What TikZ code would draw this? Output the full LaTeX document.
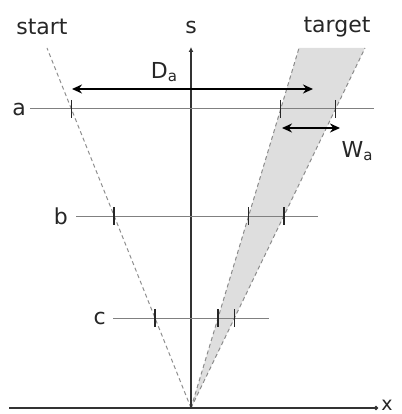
\documentclass[tikz,border=0pt]{standalone}
\usepackage{fontspec}
\setmainfont{DejaVu Sans}
\usetikzlibrary{arrows.meta, calc, positioning}

\begin{document}
\begin{tikzpicture}[x=1pt, y=-1pt, >=Stealth,
    axis/.style={draw=black!80, line width=1.3pt},
    guide/.style={draw=black!50, line width=1pt},
    bound/.style={draw=black!45, line width=1pt, dash pattern=on 4pt off 3pt},
    tickmark/.style={draw=black!85, line width=1.5pt},
    dim/.style={draw=black, line width=1.6pt, {Stealth[length=10pt,width=9pt]}-{Stealth[length=10pt,width=9pt]}},
    lbl/.style={font=\fontsize{22}{24}\selectfont, text=black!85, inner sep=0pt}]
  \useasboundingbox (0,0) rectangle (401,414);
  % axes and the three start/target boundaries
  \coordinate (O) at (191,408);
  \coordinate (st) at (47,48);
  \coordinate (tl) at (299,48);
  \coordinate (tr) at (365,48);
  \fill[black!13] (O) -- (tl) -- (tr) -- cycle;
  \draw[bound] (O) -- (st);
  \draw[bound] (O) -- (tl);
  \draw[bound] (O) -- (tr);
  \coordinate (xl) at (9,408);
  \coordinate (xr) at (378,408);
  \coordinate (stop) at (191,47);
  \draw[axis, -{Circle[length=4pt]}] (xl) -- (xr);
  \draw[axis, -{Latex[length=5pt,width=5pt]}] (O) -- (stop);
  \node[lbl, font=\fontsize{19}{21}\selectfont] (xlab) at (387,405) {x};
  \node[lbl] (slab) at (191,27) {s};
  \node[lbl] (start) at (42,27) {start};
  \node[lbl] (target) at (337,27) {target};
  % horizontal lines a, b, c
  \foreach \n/\y/\xa/\xb/\gap in {a/109/30/374/4pt, b/216/76/318/8pt, c/318/113/269/7pt} {
    \coordinate (\n0) at (\xa,\y);
    \coordinate (\n1) at (\xb,\y);
    \draw[guide] (\n0) -- (\n1);
    \node[lbl, left=\gap of \n0] (lab\n) {\n};
  }
  % ticks where the lines cross the boundaries
  \foreach \n/\t in {a/0.8306, b/0.5333, c/0.25}
    \foreach \e in {st,tl,tr} {
      \coordinate (\n\e) at ($(O)!\t!(\e)$);
      \draw[tickmark] ($(\n\e)+(0,-9)$) -- ($(\n\e)+(0,9)$);
    }
  % distances
  \coordinate (Dl) at (72,89);
  \coordinate (Dr) at (313,89);
  \draw[dim] (Dl) -- (Dr);
  \node[lbl] (Dlab) at (164,72) {D\raisebox{-3pt}{\fontsize{15}{15}\selectfont a}};
  \coordinate (Wl) at (282,128);
  \coordinate (Wr) at (340,128);
  \draw[dim] (Wl) -- (Wr);
  \node[lbl] (Wlab) at (357,151) {W\raisebox{-3pt}{\fontsize{15}{15}\selectfont a}};
\end{tikzpicture}
\end{document}
